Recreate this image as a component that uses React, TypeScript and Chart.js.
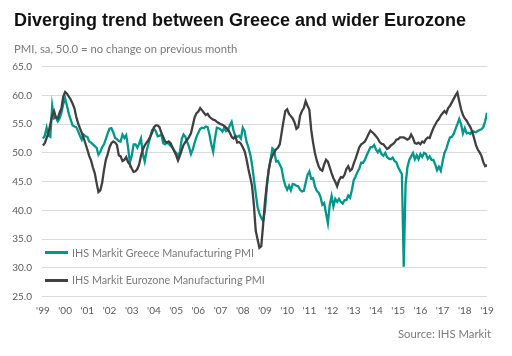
import React, { useEffect, useRef } from "react";
import { Chart, registerables } from "chart.js";

Chart.register(...registerables);

const titleText = "Diverging trend between Greece and wider Eurozone";
const subtitleText = "PMI, sa, 50.0 = no change on previous month";
const sourceText = "Source: IHS Markit";

const yearLabels = [
  "'99", "'00", "'01", "'02", "'03", "'04", "'05", "'06", "'07", "'08", "'09",
  "'10", "'11", "'12", "'13", "'14", "'15", "'16", "'17", "'18", "'19",
];

const seriesNames = [
  "IHS Markit Greece Manufacturing PMI",
  "IHS Markit Eurozone Manufacturing PMI",
];

// Monthly, Jan 1999 .. Jan 2019
const greece = [
  52.5, 53.0, 54.4, 53.0, 52.8, 58.2, 56.0, 56.2, 55.5, 56.0, 57.0, 58.5,
  59.5, 58.2, 56.8, 55.8, 54.8, 54.6, 54.5, 53.8, 53.0, 52.3, 53.2, 52.9,
  52.8, 52.0, 51.8, 51.5, 51.2, 50.9, 49.7, 50.2, 51.0, 51.5, 52.4, 53.4,
  54.2, 54.3, 53.6, 52.6, 52.4, 52.1, 52.0, 53.2, 52.6, 53.1, 51.0, 48.3,
  49.5, 51.5, 51.5, 50.9, 51.6, 52.5, 49.8, 48.5, 50.3, 51.5, 52.8, 54.0,
  54.2, 53.8, 52.9, 53.0, 53.2, 51.7, 51.5, 51.8, 51.6, 51.2, 50.9, 50.4,
  50.0, 49.4, 50.2, 52.4, 53.2, 52.8, 51.9, 51.0, 49.8, 50.6, 51.8, 52.8,
  53.5, 54.2, 54.4, 54.3, 54.6, 54.5, 53.2, 51.5, 50.2, 52.6, 54.4, 54.3,
  54.1, 53.7, 54.4, 53.8, 54.0, 54.8, 55.4, 53.9, 52.9, 52.8, 53.0, 52.5,
  54.4, 53.8, 52.0, 51.0, 49.8, 48.0, 45.5, 43.0, 40.6, 39.5, 38.7, 38.2,
  40.0, 44.0, 47.0, 48.8, 50.8, 50.5, 48.5, 48.6, 48.0, 47.3, 45.5, 44.3,
  43.6, 44.3, 43.5, 44.6, 44.5, 44.3, 44.2, 43.6, 43.3, 43.4, 44.8, 46.2,
  46.8, 45.5, 45.6, 44.2, 43.4, 43.1, 42.4, 41.0, 41.3, 39.5, 37.8, 41.0,
  42.5, 40.7, 42.0, 41.5, 42.0, 41.5, 41.2, 41.8, 41.8, 42.6, 42.2, 43.6,
  45.3, 45.9, 46.7, 47.3, 48.3, 48.3, 48.8, 49.6, 50.3, 51.0, 51.0, 51.4,
  50.6, 50.1, 50.6, 49.8, 49.5, 50.0, 49.3, 49.0, 48.9, 49.2, 48.6, 48.4,
  47.5, 46.9, 46.3, 30.2, 44.5, 47.5, 48.8, 49.4, 50.0, 48.9, 49.6, 48.9,
  49.8, 49.3, 50.0, 49.8, 49.0, 49.4, 48.8, 48.8, 48.0, 47.0, 47.6, 46.9,
  48.5, 50.0, 50.7, 51.8, 52.7, 52.8, 53.3, 54.2, 55.0, 55.9, 55.0, 53.4,
  54.3, 53.4, 53.5, 53.3, 53.8, 53.7, 53.6, 53.8, 54.0, 54.1, 54.5, 55.5,
  57.0,
];

const eurozone = [
  51.3, 51.7, 52.6, 53.5, 55.0, 56.5, 57.3, 56.2, 56.0, 57.0, 57.8, 59.8,
  60.6, 60.3, 59.8, 59.3, 58.6, 57.8, 56.3, 55.2, 54.3, 53.5, 52.6, 51.6,
  50.6, 49.5, 48.7, 47.5, 46.5, 44.8, 43.2, 43.5, 44.8, 47.0, 48.8, 49.8,
  51.0, 51.7, 52.0, 51.8, 51.4, 49.6, 49.4, 48.6, 48.8, 49.3, 48.4, 48.0,
  47.3, 46.7, 46.8, 47.2, 48.0, 49.5, 50.6, 51.3, 51.8, 52.2, 52.8, 53.5,
  54.5, 54.8, 54.8, 54.5, 53.5, 52.8, 52.0, 51.8, 52.0, 51.7, 51.0, 50.3,
  49.6, 48.7, 49.5, 50.5, 51.4, 51.9, 52.3, 52.8, 53.4, 54.8, 56.2, 56.9,
  57.2, 57.8, 57.4, 57.0, 56.6, 56.8, 56.3, 56.0, 55.8, 55.7, 55.4, 55.2,
  55.0, 54.9, 54.7, 54.4, 54.1, 53.5, 52.8, 52.5, 52.9, 51.8, 51.9, 51.6,
  51.0, 50.3, 49.0, 47.3, 45.8, 44.3, 41.0, 36.5, 35.0, 33.5, 33.8, 37.5,
  41.5, 44.5, 47.0, 48.7, 49.5, 50.1, 50.6, 50.9, 51.5, 53.5, 55.5, 57.3,
  57.6, 56.8, 56.4, 56.0, 55.3, 54.2, 54.5, 56.5, 57.3, 57.8, 59.0, 58.2,
  57.5, 54.0, 51.8, 50.0, 48.7, 47.7, 47.1, 46.9, 48.0, 48.8, 48.5, 47.5,
  46.5, 45.6, 45.0, 44.2, 45.2, 45.8, 45.7, 46.2, 47.2, 47.7, 46.9, 47.2,
  48.2, 49.0, 50.0, 51.0, 51.5, 51.7, 52.0, 52.6, 53.3, 53.9, 53.6, 53.3,
  52.9, 52.5, 51.9, 51.6, 51.5, 51.1, 50.7, 50.9, 51.3, 51.5, 51.8, 52.3,
  52.4, 52.7, 52.7, 52.7, 52.5, 52.3, 52.5, 53.2, 52.6, 51.7, 51.6, 51.8,
  51.5, 52.0, 51.8, 52.4, 52.7, 52.6, 53.5, 54.3, 54.9, 55.5, 55.9, 56.5,
  56.9, 57.3, 56.9, 57.8, 58.2, 58.8, 59.4, 60.0, 60.5, 59.0, 57.6, 56.6,
  56.0, 55.6, 55.0, 54.5, 53.7, 52.6, 51.4, 50.6, 50.1, 49.5, 48.4, 47.7,
  47.9,
];

const TEAL = "#00978a";
const DARK = "#404040";
const TEXT_GRAY = "#7a7a7a";
const TICK_GRAY = "#595959";

export default function App() {
  const canvasRef = useRef<HTMLCanvasElement | null>(null);

  useEffect(() => {
    document.body.style.margin = "0";
    const canvas = canvasRef.current;
    if (!canvas) return;
    const chart = new Chart(canvas, {
      type: "line",
      data: {
        datasets: [
          {
            label: seriesNames[0],
            data: greece.map((y, i) => ({ x: i, y })),
            borderColor: TEAL,
            backgroundColor: TEAL,
            borderWidth: 2.3,
            pointRadius: 0,
            tension: 0,
            order: 1,
          },
          {
            label: seriesNames[1],
            data: eurozone.map((y, i) => ({ x: i, y })),
            borderColor: DARK,
            backgroundColor: DARK,
            borderWidth: 2.3,
            pointRadius: 0,
            tension: 0,
            order: 0,
          },
        ],
      },
      options: {
        responsive: false,
        animation: false,
        layout: { padding: { top: 66.7, right: 25, bottom: 0, left: 0 } },
        plugins: { legend: { display: false }, tooltip: { enabled: false }, title: { display: false } },
        scales: {
          x: {
            type: "linear",
            min: -0.5,
            max: 240,
            grid: { display: false, drawTicks: false },
            border: { display: false },
            afterBuildTicks: (s: any) => {
              s.ticks = yearLabels.map((_, i) => ({ value: i * 12 }));
            },
            afterFit: (s: any) => {
              s.height = 59.3;
            },
            ticks: {
              autoSkip: false,
              maxRotation: 0,
              padding: 8,
              color: TICK_GRAY,
              font: { family: "Lato", size: 10 },
              callback: (v: any) => yearLabels[Math.round(Number(v) / 12)] ?? "",
            },
          },
          y: {
            min: 25,
            max: 65,
            afterFit: (s: any) => {
              s.width = 42;
            },
            grid: { color: "#d9d9d9", drawTicks: false, lineWidth: 1 },
            border: { display: false },
            ticks: {
              stepSize: 5,
              padding: 10,
              color: TICK_GRAY,
              font: { family: "Lato", size: 10 },
              callback: (v: any) => Number(v).toFixed(1),
            },
          },
        },
      },
    });
    return () => chart.destroy();
  }, []);

  const legendColors = [TEAL, DARK];
  const legendY = [252.7, 280];

  return (
    <div style={{ position: "relative", width: 512, height: 356, background: "#fff", overflow: "hidden" }}>
      <canvas ref={canvasRef} width={512} height={356} style={{ position: "absolute", left: 0, top: 0 }} />
      <div
        style={{
          position: "absolute", left: 14, top: 11, fontFamily: "'Liberation Sans', Arial, sans-serif",
          fontWeight: 700, fontSize: 18, lineHeight: "18px", color: "#111", whiteSpace: "nowrap",
        }}
      >
        {titleText}
      </div>
      <div
        style={{
          position: "absolute", left: 14, top: 42.5, fontFamily: "Lato, sans-serif",
          fontSize: 11.3, lineHeight: "11.3px", color: TEXT_GRAY, whiteSpace: "nowrap",
        }}
      >
        {subtitleText}
      </div>
      {seriesNames.map((name, i) => (
        <React.Fragment key={name}>
          <div
            style={{
              position: "absolute", left: 45, top: legendY[i] - 1.5, width: 23, height: 3,
              background: legendColors[i],
            }}
          />
          <div
            style={{
              position: "absolute", left: 72, top: legendY[i] + 4.3 - 10.2, fontFamily: "Lato, sans-serif",
              fontSize: 10.8, lineHeight: "12px", color: TEXT_GRAY, whiteSpace: "nowrap",
            }}
          >
            {name}
          </div>
        </React.Fragment>
      ))}
      <div
        style={{
          position: "absolute", right: 21, top: 328, fontFamily: "Lato, sans-serif",
          fontSize: 11.3, lineHeight: "11.3px", color: TEXT_GRAY, whiteSpace: "nowrap",
        }}
      >
        {sourceText}
      </div>
    </div>
  );
}
